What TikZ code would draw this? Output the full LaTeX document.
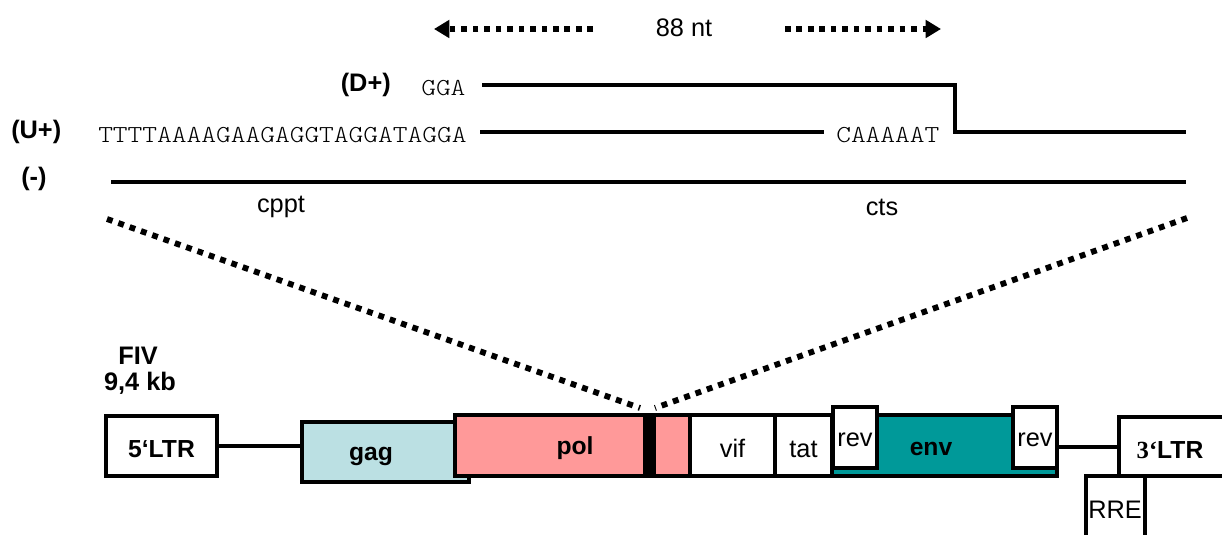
\documentclass[tikz,border=0pt]{standalone}
\usepackage{fontspec}
\setmainfont{Liberation Sans}
\newfontfamily\ltrserif{Liberation Serif}
\newfontfamily\seqfont{lmmonolt10-regular}[Extension=.otf, FakeStretch=1.15]
\usetikzlibrary{arrows.meta}

\definecolor{gagfill}{HTML}{BBE0E3}
\definecolor{polfill}{HTML}{FF9999}
\definecolor{envfill}{HTML}{009999}

\tikzset{
  lbl/.style={inner sep=0pt, font=\fontsize{19}{21}\selectfont},
  blbl/.style={inner sep=0pt, font=\fontsize{19}{21}\selectfont\bfseries},
  seq/.style={inner sep=0pt, anchor=west, font=\seqfont\fontsize{18.3}{20}\selectfont},
  strand/.style={line width=3.6pt, line join=miter},
  gene/.style={draw, rectangle, line width=3pt, inner sep=0pt, outer sep=0pt,
               text height=18pt, text depth=0pt,
               font=\fontsize{19}{21}\selectfont},
  bgene/.style={gene, text height=17pt, font=\fontsize{18.5}{20}\selectfont\bfseries},
  revbox/.style={gene, text height=13.6pt},
  link/.style={line width=3pt},
  zoomline/.style={line width=4.4pt, dash pattern=on 4.4pt off 4.6pt},
  spanarrow/.style={line width=4pt, dash pattern=on 4.2pt off 4.4pt,
                    -{Triangle[length=11.5pt,width=13pt]}},
}

\begin{document}
\begin{tikzpicture}[x=0.75pt,y=-0.75pt]
\useasboundingbox (0,0) rectangle (1222,535);
\clip (0,0) rectangle (1222,535);

% ---- length marker ----
\node[lbl] (nt) at (684,28) {88 nt};
\coordinate (spanLs) at (593,29);
\coordinate (spanLe) at (434,29);
\coordinate (spanRs) at (785,29);
\coordinate (spanRe) at (941,29);
\draw[spanarrow] (spanLs) -- (spanLe);
\draw[spanarrow] (spanRs) -- (spanRe);

% ---- strand labels and sequences ----
\node[blbl, anchor=east] (dlab) at (391,85) {(D+)};
\node[blbl, anchor=west] (ulab) at (11,132) {(U+)};
\node[blbl, anchor=west] (mlab) at (21,179) {(-)};

\node[seq] (gga) at (421,88.5) {GGA};
\node[seq] (ppt) at (98,135) {TTTTAAAAGAAGAGGTAGGATAGGA};
\node[seq] (cts) at (836,135) {CAAAAAT};

% ---- strands ----
\coordinate (dstart) at (482,85);
\coordinate (dstep) at (955,85);
\coordinate (strandend) at (1186,132);
\draw[strand] (dstart) -- (dstep) |- (strandend);
\coordinate (ustart) at (480,132);
\coordinate (uend) at (824,132);
\draw[strand] (ustart) -- (uend);
\coordinate (minusL) at (111,182);
\coordinate (minusR) at (1186,182);
\draw[strand] (minusL) -- (minusR);

\node[lbl] (cpptlab) at (281,207) {cppt};
\node[lbl] (ctslab) at (882,207) {cts};

% ---- zoom lines down to the genome ----
\coordinate (zl1) at (107,219);
\coordinate (zl2) at (640,408);
\coordinate (zr1) at (1187,218);
\coordinate (zr2) at (655,408);
\draw[zoomline] (zl1) -- (zl2);
\draw[zoomline] (zr1) -- (zr2);

% ---- genome title ----
\node[blbl] (fiv) at (138,356) {FIV};
\node[blbl] (size) at (140,383) {9,4 kb};

% ---- genome map ----
\node[bgene, fill=white, minimum width=111*0.75pt, minimum height=60*0.75pt]
  (ltr5) at (161.5,446) {5‘LTR};
\node[gene, fill=gagfill, minimum width=167*0.75pt, minimum height=60*0.75pt]
  (gag) at (385.5,452) {};
\node[blbl, font=\fontsize{18.5}{20}\selectfont\bfseries] (gagtxt) at (371,456) {gag};
\node[gene, fill=polfill, minimum width=235*0.75pt, minimum height=61*0.75pt]
  (pol) at (572.5,445.5) {};
\node[blbl, font=\fontsize{18.5}{20}\selectfont\bfseries] (poltxt) at (575,448) {pol};
\fill (643,415) rectangle (656,476);
\node[gene, fill=white, minimum width=85*0.75pt, minimum height=61*0.75pt]
  (vif) at (732.5,445.5) {vif};
\node[gene, fill=white, minimum width=57*0.75pt, minimum height=61*0.75pt]
  (tat) at (803.5,445.5) {tat};
\node[gene, fill=envfill, minimum width=225*0.75pt, minimum height=61*0.75pt]
  (env) at (944.5,445.5) {};
\node[blbl, font=\fontsize{18.5}{20}\selectfont\bfseries] (envtxt) at (931,449) {env};
\node[revbox, fill=white, minimum width=44*0.75pt, minimum height=61*0.75pt]
  (rev1) at (855,437) {rev};
\node[revbox, fill=white, minimum width=44*0.75pt, minimum height=61*0.75pt]
  (rev2) at (1035,437) {rev};
\node[gene, fill=white, minimum width=125*0.75pt, minimum height=59*0.75pt]
  (ltr3) at (1181.5,446.5) {};
\node[blbl, font=\fontsize{18.5}{20}\selectfont\bfseries] (ltr3txt) at (1170,450)
  {{\ltrserif 3‘}LTR};
\node[gene, fill=white, minimum width=59*0.75pt, minimum height=90*0.75pt]
  (rre) at (1115.5,521) {};
\node[lbl] (rretxt) at (1115,510) {RRE};

% ---- intergenic links ----
\draw[link] (ltr5.east) -- (ltr5.east -| gag.west);
\draw[link] (rev2.east |- 0,447) -- (ltr3.west |- 0,447);
\end{tikzpicture}
\end{document}
